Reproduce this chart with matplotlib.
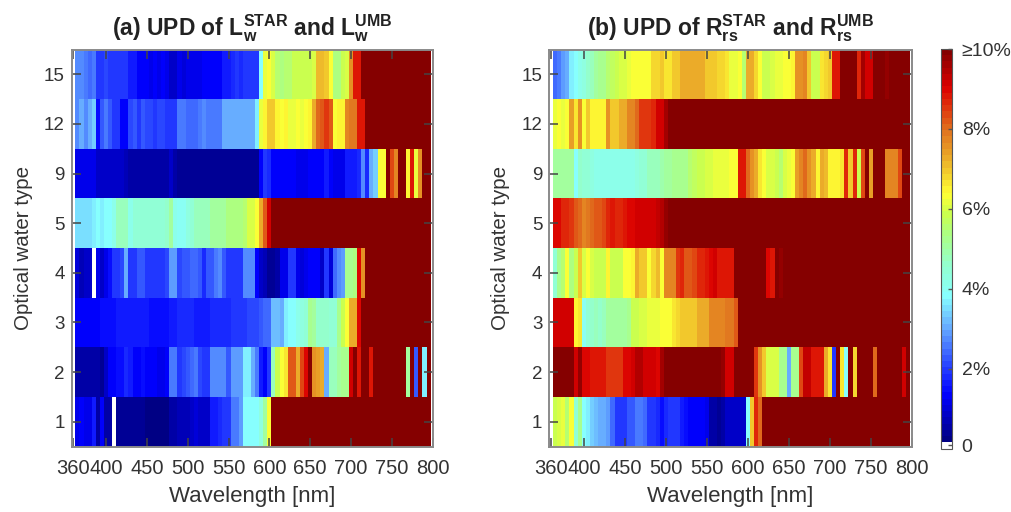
import numpy as np
import matplotlib
matplotlib.use("Agg")
import matplotlib.pyplot as plt
from matplotlib.colors import LinearSegmentedColormap, ListedColormap

plt.rcParams['font.family'] = ['Liberation Sans', 'DejaVu Sans']
plt.rcParams['mathtext.fontset'] = 'custom'
plt.rcParams['mathtext.rm'] = 'Liberation Sans'
plt.rcParams['mathtext.bf'] = 'Liberation Sans:bold'

nan = np.nan
wavelength = np.arange(365, 800, 5)
owt_labels = ['1', '2', '3', '4', '5', '9', '12', '15']

# panel (a), UPD of Lw in percent, one row per water type
lw_15 = [2.7, 2.7, 2.5, 2.4, 2.5, 2.0, 2.0, 2.1, 2.0, 2.0,
         2.0, 2.0, 1.9, 1.7, 1.6, 1.3, 1.3, 1.3, 1.2, 1.3,
         1.2, 1.3, 1.1, 0.9, 0.9, 1.1, 1.0, 1.1, 1.1, 1.1,
         1.2, 1.3, 1.3, 1.3, 1.3, 1.4, 1.6, 1.7, 1.8, 1.9,
         1.8, 1.9, 1.9, 1.9, 1.9, 3.8, 6.1, 6.3, 6.0, 5.6,
         5.4, 5.5, 5.5, 5.9, 5.9, 5.9, 5.9, 5.9, 6.0, 7.1,
         7.1, 7.0, 6.4, 5.4, 5.4, 5.9, 6.0, 7.5, 8.9, 8.9,
         10, 10, 10, 10, 10, 10, 10, 10, 10, 10,
         10, 10, 10, 10, 10, 10, 10]
lw_12 = [2.8, 3.1, 2.8, 3.0, 3.3, 1.5, 2.2, 2.5, 2.3, 2.0,
         1.9, 1.4, 1.3, 2.1, 2.2, 2.0, 2.2, 2.1, 2.1, 2.0,
         2.1, 2.1, 2.0, 1.9, 1.9, 2.5, 2.5, 2.4, 2.4, 2.4,
         2.6, 2.7, 2.5, 2.5, 2.5, 2.6, 3.0, 3.0, 3.0, 3.0,
         3.0, 3.0, 3.0, 3.0, 3.7, 6.1, 6.5, 7.0, 7.0, 6.5,
         6.4, 6.5, 6.2, 6.1, 6.3, 6.2, 6.4, 6.5, 7.2, 8.0,
         8.2, 8.5, 8.2, 6.4, 6.5, 6.5, 7.8, 7.9, 7.9, 8.8,
         8.9, 10, 10, 10, 10, 10, 10, 10, 10, 10,
         10, 10, 10, 10, 10, 10, 10]
lw_9 = [1.1, 1.1, 1.1, 1.1, 1.1, 0.9, 0.9, 0.9, 0.9, 0.9,
        0.9, 0.8, 0.7, 0.55, 0.55, 0.6, 0.6, 0.6, 0.6, 0.55,
        0.55, 0.55, 0.6, 0.9, 0.6, 0.4, 0.4, 0.4, 0.4, 0.4,
        0.4, 0.4, 0.4, 0.4, 0.4, 0.4, 0.4, 0.4, 0.4, 0.4,
        0.4, 0.4, 0.4, 0.4, 0.4, 1.3, 1.9, 1.8, 1.3, 1.3,
        1.3, 1.3, 1.3, 1.3, 1.2, 1.1, 1.1, 1.3, 1.3, 1.3,
        1.3, 1.7, 1.4, 1.2, 1.1, 1.2, 1.7, 1.7, 1.7, 1.8,
        2.7, 1.8, 3.1, 3.3, 6.3, 6.4, 10, 8.4, 7.7, 10,
        10, 6.5, 8.9, 6.2, 7.5, 10, 10]
lw_5 = [3.5, 3.5, 3.5, 3.5, 3.7, 3.9, 3.7, 3.8, 3.9, 4.2,
        4.8, 4.8, 4.8, 4.2, 4.5, 4.5, 4.5, 4.5, 4.5, 4.5,
        4.5, 4.5, 4.6, 5.0, 4.2, 4.0, 4.0, 4.3, 4.4, 4.7,
        4.7, 4.7, 4.8, 5.0, 5.0, 5.0, 5.1, 5.4, 5.4, 5.4,
        5.4, 5.6, 6.0, 6.0, 6.3, 7.2, 8.2, 9.1, 10, 10,
        10, 10, 10, 10, 10, 10, 10, 10, 10, 10,
        10, 10, 10, 10, 10, 10, 10, 10, 10, 10,
        10, 10, 10, 10, 10, 10, 10, 10, 10, 10,
        10, 10, 10, 10, 10, 10, 10]
lw_4 = [1.0, 0.7, 0.9, 0.9, nan, 1.1, 0.8, 1.1, 1.5, 2.0,
        2.0, 2.1, 3.0, 2.0, 2.0, 2.3, 2.3, 2.0, 2.0, 2.0,
        2.0, 2.0, 2.1, 2.9, 2.9, 2.1, 2.3, 2.3, 2.4, 2.4,
        2.3, 1.8, 2.2, 2.2, 2.6, 2.7, 2.3, 2.0, 2.0, 2.0,
        2.0, 2.7, 2.7, 2.7, 1.4, 0.9, 0.7, 0.4, 0.4, 0.5,
        1.2, 1.2, 1.9, 1.9, 1.1, 1.0, 1.2, 1.3, 1.3, 1.4,
        0.9, 2.0, 1.0, 2.4, 2.8, 2.9, 5.3, 5.3, 5.4, 9.0,
        7.5, 10, 10, 10, 10, 10, 10, 10, 10, 10,
        10, 10, 10, 10, 10, 10, 10]
lw_3 = [1.3, 1.3, 1.3, 1.3, 1.3, 1.3, 1.45, 1.45, 1.45, 1.45,
        1.6, 1.6, 1.7, 1.65, 1.6, 1.6, 1.6, 1.6, 1.5, 1.5,
        1.5, 1.5, 1.5, 1.6, 1.6, 1.75, 1.75, 1.75, 1.75, 1.7,
        1.7, 1.7, 1.7, 1.8, 1.8, 1.8, 1.8, 1.8, 2.0, 2.0,
        2.0, 2.0, 2.1, 2.1, 2.1, 2.2, 2.4, 2.4, 3.2, 3.2,
        3.1, 3.7, 3.8, 3.9, 4.1, 4.3, 4.4, 5.2, 5.0, 4.6,
        4.6, 4.6, 4.5, 4.5, 5.3, 5.9, 6.4, 7.2, 7.2, 9.0,
        10, 10, 10, 10, 10, 10, 10, 10, 10, 10,
        10, 10, 10, 10, 10, 10, 10]
lw_2 = [0.55, 0.55, 0.55, 0.55, 0.55, 0.55, 0.4, 0.9, 1.3, 1.3,
        1.5, 1.5, 1.8, 1.6, 1.3, 1.4, 1.5, 1.4, 1.4, 1.4,
        1.2, 1.2, 1.3, 2.5, 2.5, 2.0, 2.1, 2.2, 2.4, 2.5,
        2.1, 2.0, 2.0, 2.7, 2.8, 2.8, 2.8, 2.3, 2.9, 2.9,
        2.9, 3.6, 3.7, 3.0, 2.5, 1.7, 1.4, 2.0, 4.8, 5.9,
        6.3, 6.6, 8.2, 8.2, 7.2, 8.4, 9.0, 10, 7.6, 7.4,
        7.2, 3.0, 4.8, 4.8, 5.0, 5.2, 5.2, 9.1, 10, 8.8,
        10, 10, 8.8, 10, 10, 10, 10, 10, 10, 10,
        10, 5.0, 10, 2.2, 10, 3.7, 10]
lw_1 = [1.1, 1.4, 1.2, 1.2, 1.7, 0.6, 1.3, 0.6, 0.6, nan,
        0.45, 0.45, 0.45, 0.45, 0.35, 0.35, 0.35, 0.3, 0.3, 0.25,
        0.25, 0.25, 0.3, 0.6, 0.6, 0.65, 0.7, 0.7, 0.9, 1.0,
        0.9, 0.8, 0.8, 1.6, 1.7, 1.8, 2.0, 2.0, 2.6, 2.6,
        2.9, 3.8, 3.9, 3.8, 3.8, 4.3, 5.0, 6.4, 10, 10,
        10, 10, 10, 10, 10, 10, 10, 10, 10, 10,
        10, 10, 10, 10, 10, 10, 10, 10, 10, 10,
        10, 10, 10, 10, 10, 10, 10, 10, 10, 10,
        10, 10, 10, 10, 10, 10, 10]

# panel (b), UPD of Rrs in percent
rrs_15 = [2.4, 2.6, 2.9, 3.1, 3.7, 3.8, 4.2, 4.3, 4.6, 4.8,
          5.0, 5.3, 5.3, 5.6, 5.7, 5.9, 6.0, 6.0, 6.1, 6.4,
          6.4, 6.4, 6.4, 6.4, 6.8, 6.8, 6.9, 6.6, 6.6, 6.9,
          6.9, 7.3, 7.3, 7.3, 7.3, 7.3, 7.3, 7.0, 7.0, 7.0,
          6.8, 6.8, 6.6, 6.2, 6.2, 6.4, 5.6, 7.3, 7.2, 6.8,
          6.3, 5.9, 5.9, 6.0, 6.1, 6.2, 6.3, 6.4, 6.5, 7.6,
          7.6, 7.8, 6.9, 5.9, 5.8, 6.6, 6.8, 7.0, 8.9, 8.8,
          10, 10, 10, 10, 8.6, 9.6, 9.1, 9.1, 10, 10,
          10, 9.7, 10, 10, 10, 10, 10]
rrs_12 = [6.2, 6.3, 6.2, 6.3, 7.4, 6.6, 7.6, 6.4, 7.0, 6.5,
          6.5, 6.5, 6.5, 7.6, 7.0, 6.9, 7.2, 7.3, 7.7, 7.7,
          8.0, 8.5, 8.5, 8.5, 8.6, 9.1, 9.1, 9.6, 10, 10,
          10, 10, 10, 10, 10, 10, 10, 10, 10, 10,
          10, 10, 10, 10, 10, 10, 10, 10, 10, 10,
          10, 10, 10, 10, 10, 10, 10, 10, 10, 10,
          10, 10, 10, 10, 10, 10, 10, 10, 10, 10,
          10, 10, 10, 10, 10, 10, 10, 10, 10, 10,
          10, 10, 10, 10, 10, 10, 10]
rrs_9 = [5.0, 5.0, 5.0, 5.0, 5.0, 3.8, 4.6, 4.4, 4.4, 4.3,
         4.2, 4.2, 4.2, 4.1, 4.1, 4.1, 4.1, 4.1, 4.1, 4.1,
         4.3, 4.5, 4.5, 4.7, 4.7, 4.7, 4.9, 5.0, 5.1, 5.2,
         5.2, 5.3, 5.3, 5.5, 5.7, 5.8, 5.8, 6.0, 6.0, 6.1,
         6.1, 6.2, 6.2, 6.3, 6.4, 8.8, 8.9, 8.0, 7.6, 7.2,
         6.6, 6.3, 6.0, 6.0, 5.9, 5.5, 6.0, 6.1, 6.3, 7.4,
         7.8, 8.1, 7.5, 7.3, 6.5, 7.2, 7.1, 6.5, 6.5, 6.5,
         6.6, 8.6, 7.0, 8.6, 5.8, 8.3, 10, 7.4, 10, 10,
         10, 7.7, 7.7, 7.7, 8.3, 10, 10]
rrs_5 = [9.0, 9.0, 8.6, 8.6, 8.5, 8.2, 8.0, 7.8, 7.9, 8.0,
         8.2, 8.2, 8.3, 8.7, 8.8, 8.7, 8.6, 8.9, 9.0, 9.0,
         9.1, 9.1, 9.1, 9.1, 9.1, 9.3, 9.4, 9.7, 10, 10,
         10, 10, 10, 10, 10, 10, 10, 10, 10, 10,
         10, 10, 10, 10, 10, 10, 10, 10, 10, 10,
         10, 10, 10, 10, 10, 10, 10, 10, 10, 10,
         10, 10, 10, 10, 10, 10, 10, 10, 10, 10,
         10, 10, 10, 10, 10, 10, 10, 10, 10, 10,
         10, 10, 10, 10, 10, 10, 10]
rrs_4 = [4.4, 5.3, 5.6, 6.4, 5.4, 5.8, 7.0, 6.0, 6.4, 6.0,
         5.9, 5.9, 5.8, 6.5, 5.9, 5.8, 5.9, 6.4, 6.4, 6.5,
         7.2, 7.0, 7.0, 6.4, 6.8, 7.1, 6.4, 7.7, 7.7, 7.8,
         8.5, 8.6, 8.2, 8.2, 8.4, 8.7, 8.7, 8.9, 9.0, 9.1,
         8.9, 8.9, 8.8, 8.8, 10, 10, 10, 10, 10, 10,
         10, 10, 9.0, 8.9, 10, 9.7, 10, 10, 10, 10,
         10, 10, 10, 10, 10, 10, 10, 10, 10, 10,
         10, 10, 10, 10, 10, 10, 10, 10, 10, 10,
         10, 10, 10, 10, 10, 10, 10]
rrs_3 = [9.1, 9.1, 9.1, 9.1, 9.1, 6.5, 6.6, 4.0, 4.5, 4.6,
         4.7, 4.6, 4.8, 5.0, 5.0, 5.0, 5.1, 5.1, 5.2, 5.8,
         5.9, 6.0, 6.0, 6.1, 6.2, 6.1, 6.3, 6.4, 6.4, 6.7,
         6.8, 7.0, 7.0, 7.0, 7.0, 7.2, 7.2, 7.3, 7.7, 7.7,
         7.8, 7.8, 7.9, 7.9, 8.2, 10, 10, 10, 10, 10,
         10, 10, 10, 10, 10, 10, 10, 10, 10, 10,
         10, 10, 10, 10, 10, 10, 10, 10, 10, 10,
         10, 10, 10, 10, 10, 10, 10, 10, 10, 10,
         10, 10, 10, 10, 10, 10, 10]
rrs_2 = [10, 10, 10, 10, 9.9, 9.1, 9.8, 9.0, 9.0, 8.8,
         8.8, 8.8, 8.8, 8.5, 8.5, 8.5, 8.5, 9.0, 9.0, 9.1,
         9.4, 9.5, 9.1, 9.1, 9.2, 9.0, 9.6, 10, 10, 10,
         10, 10, 10, 10, 10, 10, 10, 10, 10, 10,
         10, 9.7, 9.1, 9.1, 10, 10, 10, 10, 10, 8.5,
         7.5, 7.0, 6.0, 6.0, 6.0, 5.3, 5.3, 3.0, 5.2, 5.2,
         8.3, 9.3, 9.3, 8.9, 8.9, 8.9, 7.2, 6.7, 1.9, 10,
         6.6, 3.9, 10, 6.8, 10, 10, 10, 10, 8.0, 10,
         10, 10, 10, 10, 10, 9.2, 10]
rrs_1 = [5.9, 6.0, 6.1, 5.5, 6.4, 4.4, 5.2, 3.8, 3.7, 3.4,
         3.2, 3.0, 3.0, 2.9, 2.4, 2.0, 2.0, 2.0, 2.2, 2.3,
         2.5, 2.6, 2.4, 1.9, 1.9, 1.8, 1.5, 1.8, 1.9, 1.9,
         1.9, 1.7, 1.5, 1.4, 1.4, 1.3, 1.3, 1.1, 0.6, 0.5,
         0.4, 0.6, 0.9, 0.9, 0.9, 0.9, 0.9, 3.9, 6.9, 8.7,
         8.0, 10, 10, 10, 10, 10, 10, 10, 10, 10,
         10, 10, 10, 10, 10, 10, 10, 10, 10, 10,
         10, 10, 10, 10, 10, 10, 10, 10, 10, 10,
         10, 10, 10, 10, 10, 10, 10]

lw_rows = [lw_1, lw_2, lw_3, lw_4, lw_5, lw_9, lw_12, lw_15]
rrs_rows = [rrs_1, rrs_2, rrs_3, rrs_4, rrs_5, rrs_9, rrs_12, rrs_15]

W, H = 1011, 512
GREY = '#8a8a8a'
TXT = '#333333'


def make_cmap():
    # pale jet, 64 levels like the matlab one, lowest level is white
    stops = [(0.0, (0.0, 0.0, 0.45)), (0.13, (0.0, 0.0, 1.0)),
             (0.20, (0.15, 0.25, 1.0)), (0.30, (0.40, 0.67, 1.0)),
             (0.38, (0.53, 1.0, 1.0)), (0.46, (0.58, 1.0, 0.80)),
             (0.54, (0.68, 1.0, 0.50)), (0.59, (0.80, 1.0, 0.30)),
             (0.64, (1.0, 1.0, 0.20)), (0.73, (0.92, 0.67, 0.16)),
             (0.80, (0.88, 0.45, 0.12)), (0.86, (0.88, 0.20, 0.05)),
             (0.91, (0.86, 0.0, 0.0)), (1.0, (0.52, 0.0, 0.0))]
    base = LinearSegmentedColormap.from_list('pale_jet', stops, N=64)
    colors = base(np.linspace(0, 1, 64))
    colors[0] = (1, 1, 1, 1)
    cmap = ListedColormap(colors)
    cmap.set_bad('white')
    return cmap


def heat_panel(fig, box, rows, title, cmap):
    left, right = box
    ax = fig.add_axes([left / W, 1 - 446.5 / H, (right - left) / W, 397 / H])
    x_edges = np.append(wavelength - 2.5, wavelength[-1] + 2.5)
    y_edges = np.arange(len(owt_labels) + 1)
    mesh = ax.pcolormesh(x_edges, y_edges, np.array(rows, dtype=float),
                         cmap=cmap, vmin=0, vmax=10)
    ax.set_xlim(358, 800)
    ax.set_ylim(0, len(owt_labels))
    ax.set_xticks([360, 400, 450, 500, 550, 600, 650, 700, 750, 800])
    ax.set_yticks(np.arange(len(owt_labels)) + 0.5)
    ax.set_yticklabels(owt_labels)
    ax.tick_params(direction='in', length=6.5, width=1.1, color='#444444',
                   labelcolor=TXT, top=True, right=True)
    ax.tick_params(axis='x', labelsize=14.5, pad=9)
    ax.tick_params(axis='y', labelsize=13.5, pad=5)
    ax.set_xlabel('Wavelength [nm]', fontsize=16, color=TXT, labelpad=6)
    ax.set_ylabel('Optical water type', fontsize=14.8, color=TXT, labelpad=8)
    ax.set_title(title, fontsize=16.5, fontweight='bold', color='#222222', pad=10)
    for spine in ax.spines.values():
        spine.set_color(GREY)
        spine.set_linewidth(1.4)
    return mesh


def main():
    cmap = make_cmap()
    fig = plt.figure(figsize=(W / 100, H / 100), dpi=100)

    mesh = heat_panel(fig, (71.7, 432.7), lw_rows,
                      r'(a) UPD of L$_{\mathbf{w}}^{\mathbf{STAR}}$ and L$_{\mathbf{w}}^{\mathbf{UMB}}$', cmap)
    heat_panel(fig, (549.3, 912), rrs_rows,
               r'(b) UPD of R$_{\mathbf{rs}}^{\mathbf{STAR}}$ and R$_{\mathbf{rs}}^{\mathbf{UMB}}$', cmap)

    cax = fig.add_axes([941 / W, 1 - 448.5 / H, 11 / W, 399.5 / H])
    cbar = fig.colorbar(mesh, cax=cax)
    cbar.set_ticks([0.08, 2, 4, 6, 8, 10])
    cbar.set_ticklabels(['0', '2%', '4%', '6%', '8%', '≥10%'])
    cbar.ax.tick_params(direction='in', length=3, width=1, color='#555555',
                        labelsize=14, labelcolor=TXT, pad=7)
    cbar.outline.set_edgecolor('#555555')
    cbar.outline.set_linewidth(0.8)

    fig.savefig('out.png', dpi=100)


if __name__ == "__main__":
    main()
